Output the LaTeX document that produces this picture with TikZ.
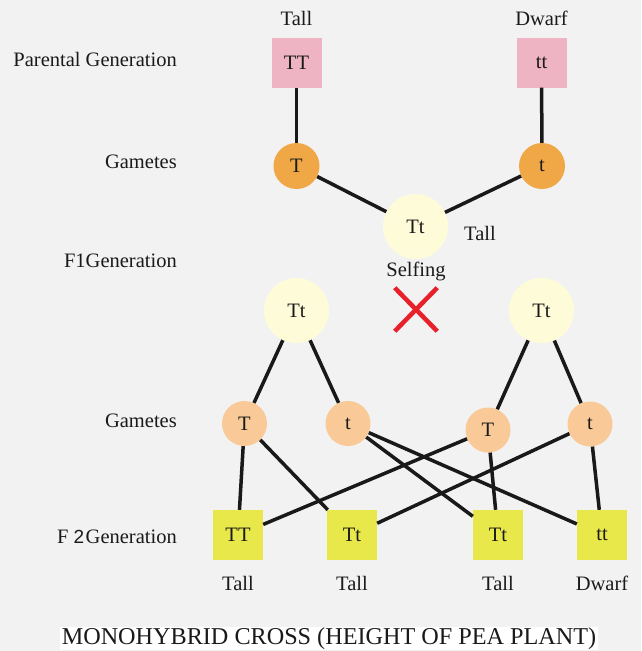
\documentclass[tikz,border=0pt]{standalone}
\usepackage{fontspec}
\setmainfont{Liberation Serif}
\newfontfamily\sansf{Liberation Sans}
\usetikzlibrary{shapes.misc}
\definecolor{bgc}{HTML}{F2F2F2}
\definecolor{pinkc}{HTML}{EEB4C3}
\definecolor{orangec}{HTML}{F0A847}
\definecolor{creamc}{HTML}{FEFCD8}
\definecolor{peachc}{HTML}{F9C998}
\definecolor{yellowc}{HTML}{E8E84A}
\definecolor{redx}{HTML}{E8202A}
\definecolor{txt}{HTML}{1A1A1A}
\tikzset{
  lbl/.style={font=\fontsize{20.5}{24}\selectfont, text=txt, inner sep=0pt},
  side/.style={lbl, anchor=mid east},
  pbox/.style={lbl, fill=pinkc, minimum size=50pt},
  fbox/.style={lbl, fill=yellowc, minimum size=50pt},
  gam/.style={lbl, circle, fill=orangec, minimum size=46pt},
  gam2/.style={lbl, circle, fill=peachc, minimum size=45pt},
  fone/.style={lbl, circle, fill=creamc, minimum size=65pt},
  conn/.style={line width=3.5pt, draw=black!90}
}
\begin{document}
\begin{tikzpicture}[x=1pt,y=-1pt]
\fill[bgc] (0,0) rectangle (641,651);
\useasboundingbox (0,0) rectangle (641,651);

% side labels
\node[side] (l1) at (177,64) {Parental Generation};
\node[side] (l2) at (177,166) {Gametes};
\node[side] (l3) at (177,265) {F1Generation};
\node[side] (l4) at (177,425) {Gametes};
\node[side] (l5) at (177,541) {F {\sansf\fontsize{19}{20}\selectfont 2}\hspace{1.5pt}Generation};

% parental generation
\node[lbl] (tallP) at (296.5,18) {Tall};
\node[lbl] (dwarfP) at (541.5,18) {Dwarf};
\node[pbox] (TT) at (296.5,62.5) {TT};
\node[pbox] (tt) at (541.5,62.5) {tt};

% gametes
\node[gam] (gT) at (296.5,166) {T};
\node[gam] (gt) at (542,166) {t};

% F1
\node[fone] (F1) at (415.5,226.5) {Tt};
\node[lbl] (tallF1) at (480,233) {Tall};
\node[lbl] (self) at (416,271) {Selfing};
\node[lbl, cross out, draw=redx, line width=4.5pt, minimum width=38pt, minimum height=39pt] (cross) at (416,309.5) {};
\node[fone] (F1a) at (296.5,310.5) {Tt};
\node[fone] (F1b) at (541.5,310.5) {Tt};

% gametes of F1
\node[gam2] (g2T) at (244.5,423.5) {T};
\node[gam2] (g2t) at (348,423.5) {t};
\node[gam2] (g3T) at (488,430) {T};
\node[gam2] (g3t) at (590,424) {t};

% F2
\node[fbox] (f1) at (238,535) {TT};
\node[fbox] (f2) at (352,535) {Tt};
\node[fbox] (f3) at (498,535) {Tt};
\node[fbox] (f4) at (602,535) {tt};
\node[lbl] (p1) at (238,583) {Tall};
\node[lbl] (p2) at (352,583) {Tall};
\node[lbl] (p3) at (498,583) {Tall};
\node[lbl] (p4) at (602,583) {Dwarf};

% title
\node[lbl, font=\fontsize{24.2}{28}\selectfont, fill=white, minimum width=538pt, minimum height=23pt] (title) at (329,638.5) {MONOHYBRID CROSS (HEIGHT OF PEA PLANT)};

% connectors
\draw[conn] (TT) -- (gT);
\draw[conn] (tt) -- (gt);
\draw[conn] (gT) -- (F1);
\draw[conn] (gt) -- (F1);
\draw[conn] (F1a) -- (g2T);
\draw[conn] (F1a) -- (g2t);
\draw[conn] (F1b) -- (g3T);
\draw[conn] (F1b) -- (g3t);
\draw[conn] (g2T) -- (f1);
\draw[conn] (g2T) -- (f2);
\draw[conn] (g2t) -- (f3);
\draw[conn] (g2t) -- (f4);
\draw[conn] (g3T) -- (f1);
\draw[conn] (g3T) -- (f3);
\draw[conn] (g3t) -- (f2);
\draw[conn] (g3t) -- (f4);
\end{tikzpicture}
\end{document}
